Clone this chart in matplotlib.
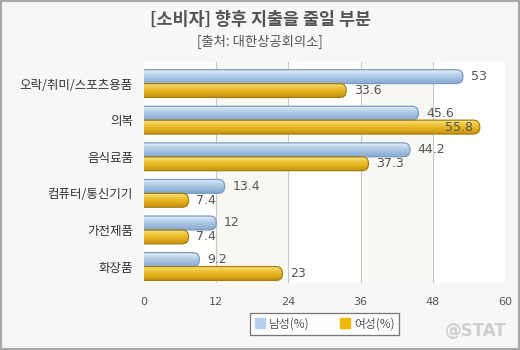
import numpy as np
import matplotlib
matplotlib.use("Agg")
import matplotlib.pyplot as plt
from matplotlib.patches import FancyBboxPatch, Rectangle
from matplotlib.lines import Line2D
from matplotlib.colors import LinearSegmentedColormap

plt.rcParams['font.family'] = ['Noto Sans CJK KR', 'DejaVu Sans']

# data
categories = ["오락/취미/스포츠용품", "의복", "음식료품", "컴퓨터/통신기기", "가전제품", "화장품"]
male = [53, 45.6, 44.2, 13.4, 12, 9.2]
female = [33.6, 55.8, 37.3, 7.4, 7.4, 23]
series_names = ["남성(%)", "여성(%)"]
x_ticks = [0, 12, 24, 36, 48, 60]

TXT = "#555555"
blue_grad = LinearSegmentedColormap.from_list("b", ["#e4eef8", "#b9d2ea", "#9dbcdd", "#87a9cf"])
gold_grad = LinearSegmentedColormap.from_list("g", ["#f9e38a", "#eec43a", "#e0ad1a", "#c49212"])

fig = plt.figure(figsize=(5.2, 3.5), dpi=100, facecolor="#f7f7f7")
ax = fig.add_axes([144/520, 1-283/350, 361/520, 221/350])
ax.set_facecolor("white")
ax.set_xlim(0, 60)
ax.set_ylim(5.45, -0.59)

# alternate bands + grid
for i, x0 in enumerate(x_ticks[:-1]):
    if i % 2 == 1:
        ax.axvspan(x0, x_ticks[i+1], color="#f8f8f5", zorder=0)
for xt in x_ticks[1:-1]:
    ax.axvline(xt, color="#c8c8c8", lw=0.8, zorder=1)

bh = 0.38
px_x = 361/60      # pixels per x unit
px_y = 221/6.04    # pixels per y unit
r = 6.5/px_x
aspect = (6.5/px_y)/r

def draw_bar(y, v, cmap, edge):
    box = FancyBboxPatch((-r, y - bh/2), v + r, bh,
                         boxstyle=f"round,pad=0,rounding_size={r}",
                         mutation_aspect=aspect, facecolor="none",
                         edgecolor=edge, lw=0.9, zorder=3)
    ax.add_patch(box)
    grad = np.linspace(0, 1, 64).reshape(-1, 1)
    im = ax.imshow(grad, cmap=cmap, aspect="auto", zorder=2,
                   extent=(-r, v, y + bh/2, y - bh/2), interpolation="bilinear")
    im.set_clip_path(box)

for i in range(len(categories)):
    yb = i - bh/2
    yg = i + bh/2
    draw_bar(yb, male[i], blue_grad, "#7b9cc0")
    draw_bar(yg, female[i], gold_grad, "#a88010")
    for y, v in ((yb, male[i]), (yg, female[i])):
        if v > 54:
            ax.text(v - 1.2, y, f"{v:g}", ha="right", va="center", fontsize=9,
                    color=TXT, zorder=4, family="DejaVu Sans")
        else:
            ax.text(v + 1.3, y, f"{v:g}", ha="left", va="center", fontsize=9,
                    color=TXT, zorder=4, family="DejaVu Sans")

ax.set_xlim(0, 60)
ax.set_ylim(5.45, -0.59)
ax.set_yticks(range(len(categories)))
ax.set_yticklabels(categories, fontsize=9, color="#333333")
ax.set_xticks(x_ticks)
ax.set_xticklabels([str(t) for t in x_ticks], fontsize=8, color=TXT, family="DejaVu Sans")
ax.tick_params(length=0)
ax.tick_params(axis="y", pad=8)
ax.tick_params(axis="x", pad=10)
for s in ax.spines.values():
    s.set_visible(False)

fig.text(0.5, 0.943, "[소비자] 향후 지출을 줄일 부분", ha="center", va="center",
         fontsize=12.5, fontweight="bold", color=TXT)
fig.text(0.5, 0.88, "[출처: 대한상공회의소]", ha="center", va="center", fontsize=9.6, color=TXT)

handles = [Line2D([0], [0], marker="s", ls="none", markersize=7, markerfacecolor="#b4d0ee",
                  markeredgecolor="#b4d0ee", label=series_names[0]),
           Line2D([0], [0], marker="s", ls="none", markersize=7, markerfacecolor="#f0b800",
                  markeredgecolor="#f0b800", label=series_names[1])]
leg = fig.legend(handles=handles, loc="center", bbox_to_anchor=(0.624, 0.074), ncol=2,
                 fontsize=8.5, frameon=True, fancybox=False, handletextpad=0.3,
                 columnspacing=2.5, borderpad=0.35, handlelength=1.0)
leg.get_frame().set_edgecolor("#555555")
leg.get_frame().set_linewidth(0.9)
for t in leg.get_texts():
    t.set_color(TXT)

fig.text(0.975, 0.055, "@STAT", ha="right", va="center", fontsize=12, fontweight="bold",
         color="#cfcfcf", family="DejaVu Sans")

fig.patches.append(Rectangle((0, 0), 1, 1, transform=fig.transFigure, fill=False,
                             edgecolor="#a8a8a8", lw=3))

fig.savefig("out.png", dpi=100, facecolor=fig.get_facecolor())
